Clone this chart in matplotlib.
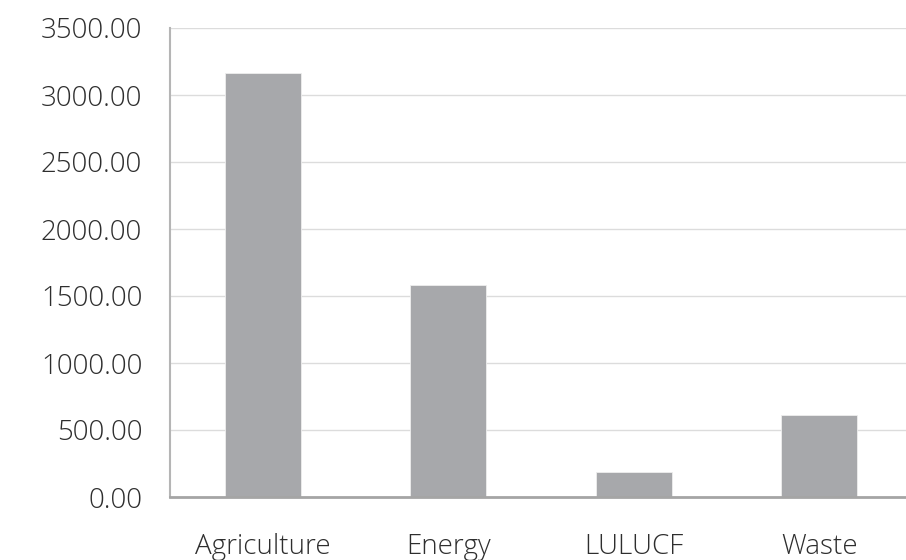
import matplotlib.pyplot as plt
from matplotlib.ticker import FuncFormatter

# Emissions by sector
sectors = ["Agriculture", "Energy", "LULUCF", "Waste"]
emissions = [3164, 1582, 189, 612]

bar_color = "#a7a8ab"
grid_color = "#dcdcdc"
text_color = "#2e2e2e"

fig = plt.figure(figsize=(9.06, 5.60), dpi=100)
fig.set_facecolor("white")
ax = fig.add_axes([170 / 906, 63 / 560, 742 / 906, 469 / 560])

ax.bar(range(len(sectors)), emissions, width=0.41, color=bar_color,
       edgecolor="#eeeeee", linewidth=0.6, zorder=3)

ax.set_xlim(-0.5, len(sectors) - 0.5)
ax.set_ylim(0, 3500)
ax.set_yticks(range(0, 3501, 500))
ax.yaxis.set_major_formatter(FuncFormatter(lambda v, _: f"{v:.2f}"))
ax.set_xticks(range(len(sectors)))
ax.set_xticklabels(sectors)

# Grid and spines
ax.grid(axis="y", color=grid_color, lw=1, zorder=0)
ax.spines[["top", "right"]].set_visible(False)
ax.spines["left"].set_color("#b5b5b5")
ax.spines["left"].set_linewidth(1.5)
ax.spines["bottom"].set_color("#a5a5a5")
ax.spines["bottom"].set_linewidth(2)
ax.spines["bottom"].set_zorder(4)

ax.tick_params(axis="both", length=0, labelsize=20, labelcolor=text_color)
ax.tick_params(axis="y", pad=20)
ax.tick_params(axis="x", pad=26)
for lbl in ax.get_xticklabels() + ax.get_yticklabels():
    lbl.set_fontfamily("Open Sans")
    lbl.set_fontweight(300)

plt.savefig("out.png", dpi=100)
